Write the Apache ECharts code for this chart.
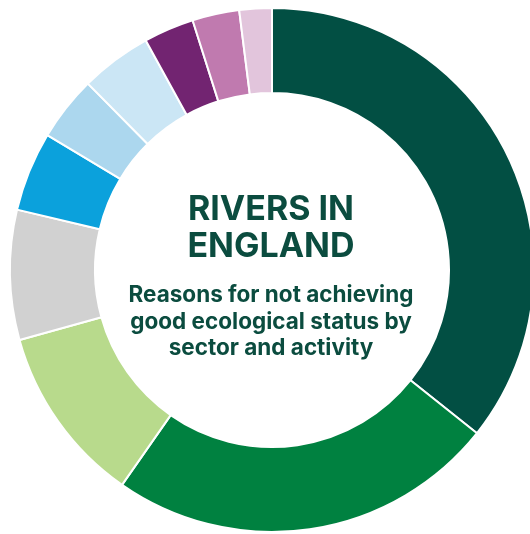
<!DOCTYPE html>
<html>
<head>
<meta charset="utf-8">
<script src="https://cdn.jsdelivr.net/npm/echarts@6/dist/echarts.min.js"></script>
<style>
  html, body { margin: 0; padding: 0; background: #fff; }
  #chart { width: 530px; height: 534px; }
</style>
</head>
<body>
<div id="chart"></div>
<script>
const sectors = ['Sector 1', 'Sector 2', 'Sector 3', 'Sector 4', 'Sector 5',
                 'Sector 6', 'Sector 7', 'Sector 8', 'Sector 9', 'Sector 10'];
const shares = [35.7, 24.0, 11.0, 8.0, 4.9, 4.0, 4.4, 3.1, 2.9, 2.0];
const colours = ['#024f43', '#008140', '#b8da8c', '#d1d1d1', '#0ba1dc',
                 '#acd7ee', '#cbe6f5', '#722471', '#c07aaf', '#e2c5dc'];

const textColour = '#0b4c3f';

const chart = echarts.init(document.getElementById('chart'));

chart.setOption({
  animation: false,
  series: [
    {
      type: 'pie',
      center: [272, 270],
      radius: [177, 262],
      startAngle: 90,
      clockwise: true,
      label: { show: false },
      labelLine: { show: false },
      itemStyle: { borderColor: '#fff', borderWidth: 2 },
      data: sectors.map((name, i) => ({
        name: name,
        value: shares[i],
        itemStyle: { color: colours[i] }
      }))
    }
  ],
  graphic: [
    {
      type: 'text',
      x: 271,
      y: 228,
      style: {
        text: 'RIVERS IN\nENGLAND',
        fill: textColour,
        font: 'bold 34px Inter',
        lineHeight: 37,
        align: 'center',
        verticalAlign: 'middle'
      }
    },
    {
      type: 'text',
      x: 271,
      y: 322,
      style: {
        text: 'Reasons for not achieving\ngood ecological status by\nsector and activity',
        fill: textColour,
        font: 'bold 22.5px Inter',
        lineHeight: 26.5,
        align: 'center',
        verticalAlign: 'middle'
      }
    }
  ]
});
</script>
</body>
</html>
